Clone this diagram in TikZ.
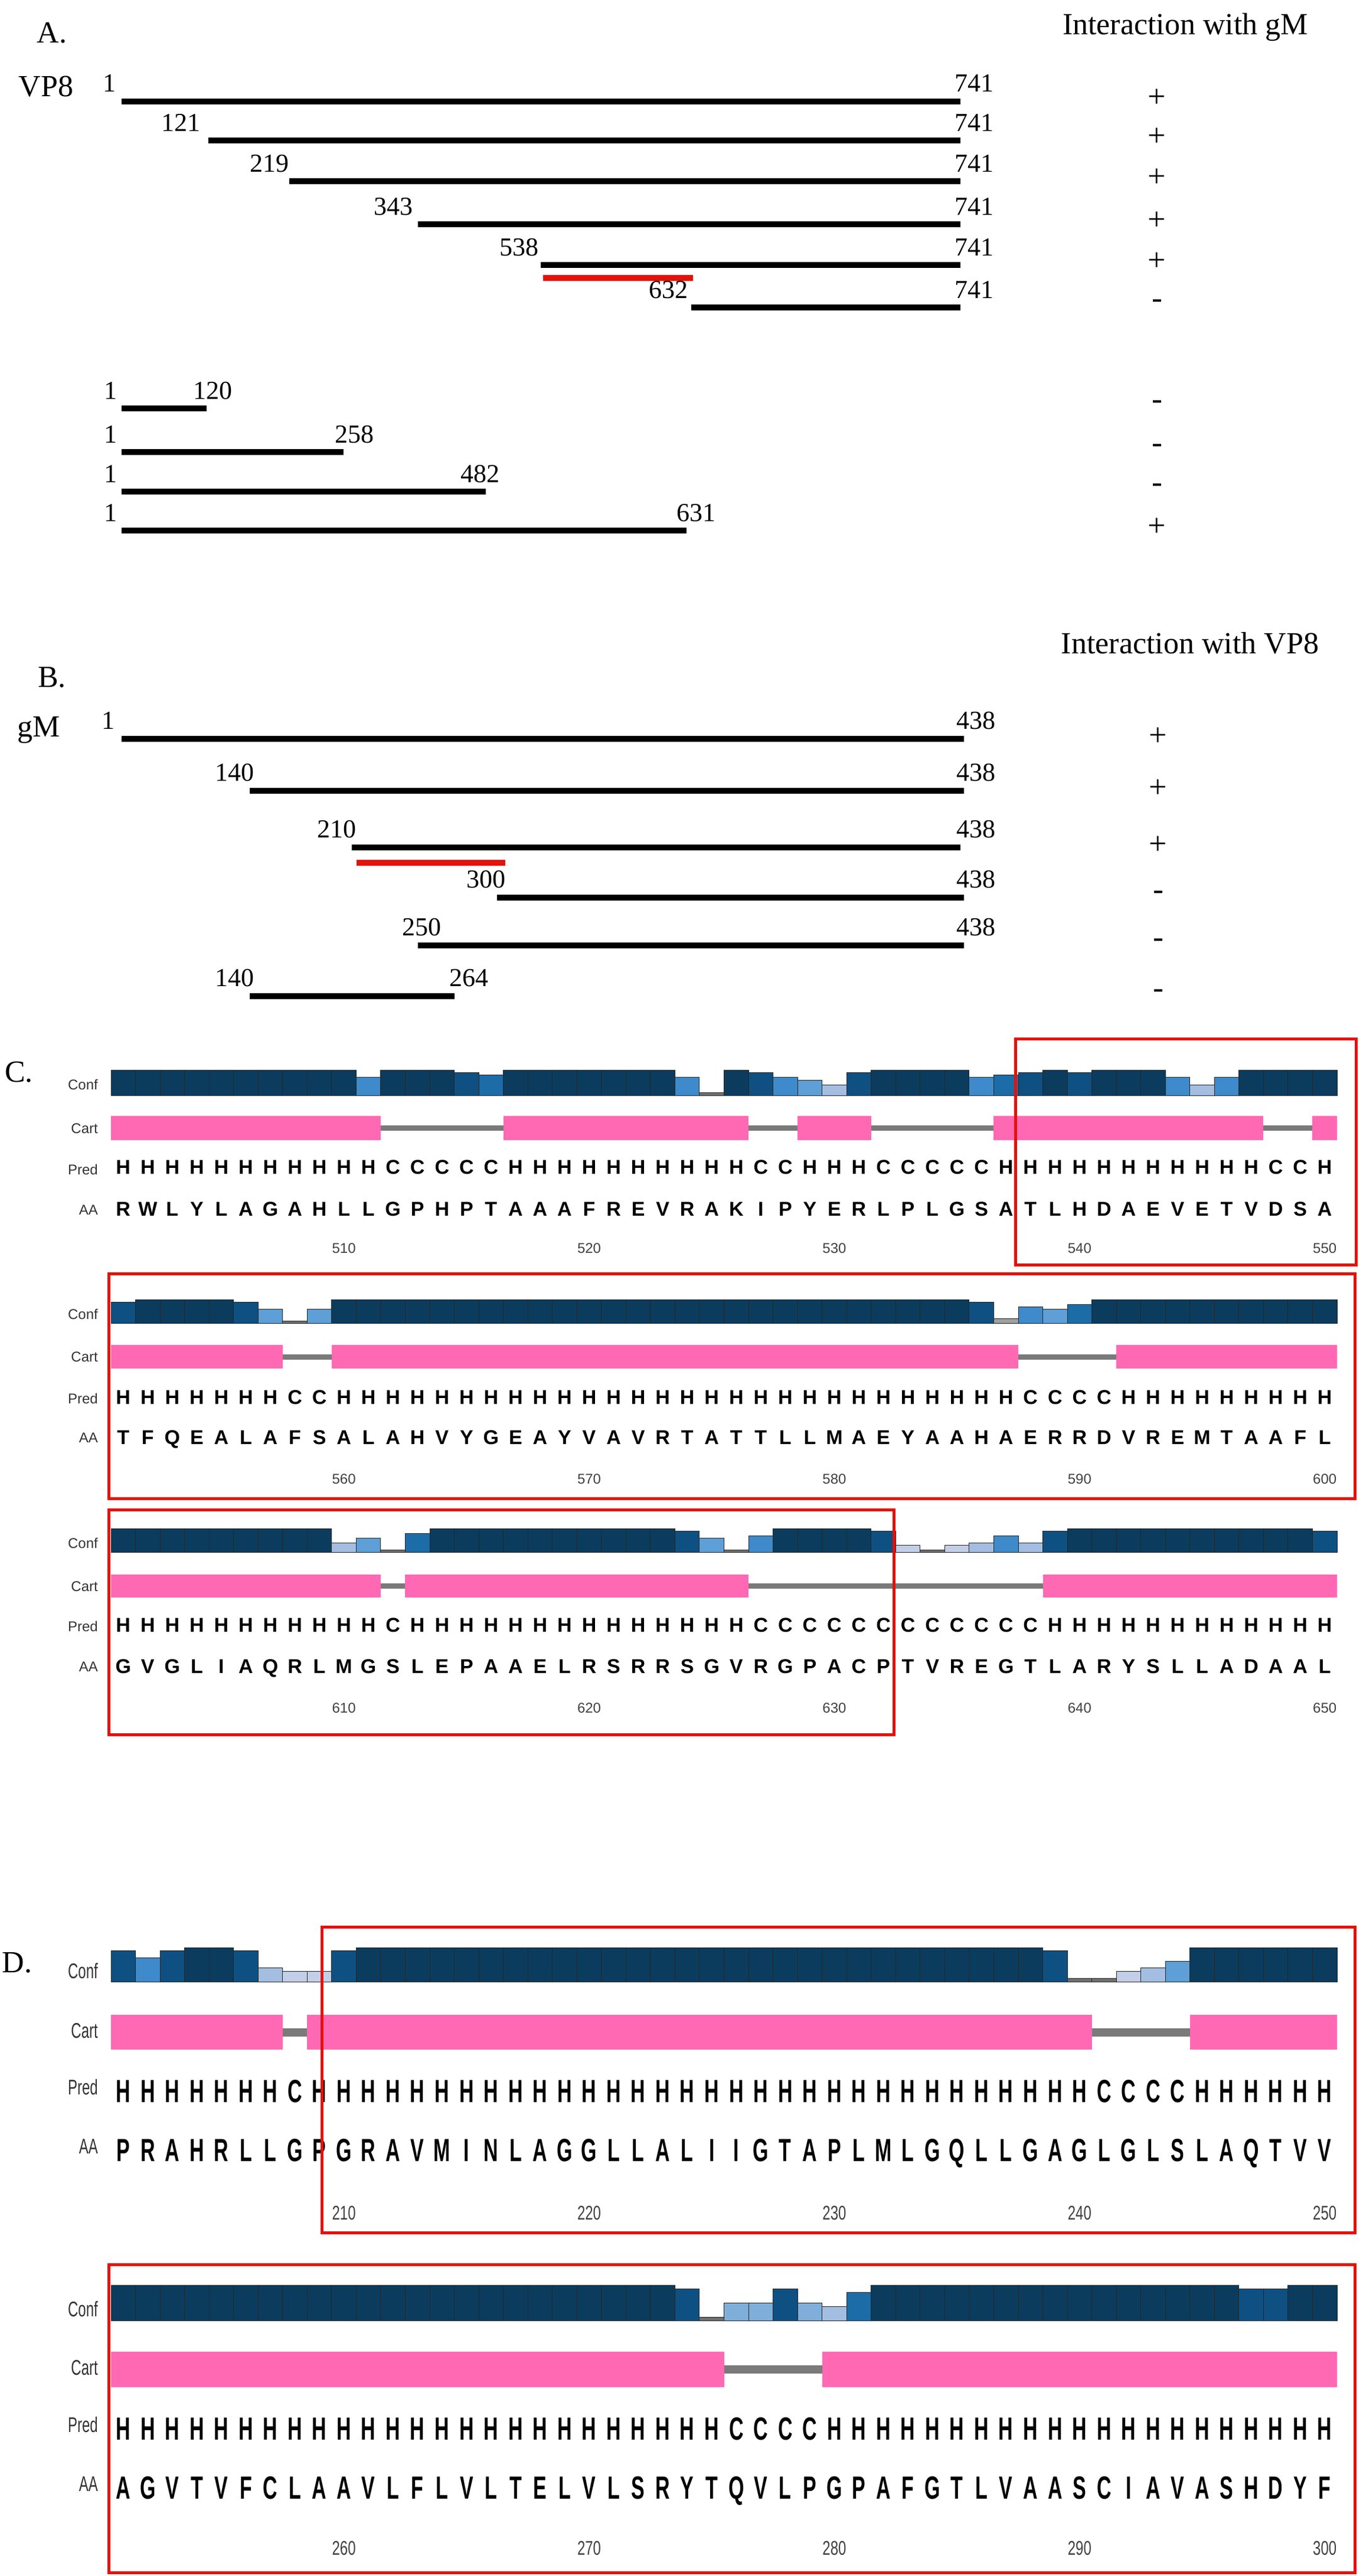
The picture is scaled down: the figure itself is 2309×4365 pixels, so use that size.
\documentclass[tikz,border=0pt]{standalone}
\usepackage{fontspec}
\setmainfont{Liberation Serif}
\newfontfamily\seqfont{Liberation Sans}
\usepackage{xstring}

\definecolor{conf9}{HTML}{0B3C5D}
\definecolor{conf8}{HTML}{0F5082}
\definecolor{conf7}{HTML}{1C6CA8}
\definecolor{conf6}{HTML}{3E8ACB}
\definecolor{conf5}{HTML}{5D9FD6}
\definecolor{conf4}{HTML}{7FAEDB}
\definecolor{conf3}{HTML}{A3BEE0}
\definecolor{conf2}{HTML}{C3CEE8}
\definecolor{conf1}{HTML}{A0A0A0}
\definecolor{conf0}{HTML}{707070}
\definecolor{helixpink}{HTML}{FF69B4}
\definecolor{coilgrey}{HTML}{7A7A7A}
\definecolor{boxred}{HTML}{E3120B}

% residue i spans 188+(i-1)*41.54 .. 188+i*41.54
\newcommand\psiconf[3]{% top, bottom, levels
  \foreach \i in {1,...,50}{
    \StrChar{#3}{\i}[\lvl]
    \edef\cc{conf\lvl}
    \pgfmathsetmacro\xa{188+(\i-1)*41.54}
    \pgfmathsetmacro\ya{#2-(#2-#1)*(\lvl+1)/10}
    \draw[conf bar, fill=\cc] (\xa,\ya) rectangle (\xa+41.54,#2);
  }}
\newcommand\psicart[4]{% top, bottom, coil width, helix segments
  \draw[coilgrey, line width=#3] (188,{(#1+#2)/2}) -- (2265,{(#1+#2)/2});
  \foreach \a/\b in {#4}
    \fill[helixpink] ({188+(\a-1)*41.54},#1) rectangle ({188+\b*41.54},#2);}
\newcommand\psiseq[4]{% baseline, string, stretch, name
  \foreach \i in {1,...,50}{
    \StrChar{#2}{\i}[\ch]
    \node[seq letter] (#4-\i) at ({188+(\i-0.5)*41.54},#1) {\scalebox{1}[#3]{\ch}};
  }}
\newcommand\psinum[4]{% baseline, first number, stretch, name
  \foreach \k in {1,...,5}{
    \pgfmathtruncatemacro\n{#2+10*\k}
    \node[seq num] (#4-\k) at ({188+(10*\k-0.5)*41.54},#1) {\scalebox{1}[#3]{\n}};
  }}
\newcommand\psilabels[6]{% conf, cart, pred, aa baselines, stretch, name
  \node[row lbl] (#6-conf) at (166,#1) {\scalebox{1}[#5]{Conf}};
  \node[row lbl] (#6-cart) at (166,#2) {\scalebox{1}[#5]{Cart}};
  \node[row lbl] (#6-pred) at (166,#3) {\scalebox{1}[#5]{Pred}};
  \node[row lbl] (#6-aa)   at (166,#4) {\scalebox{1}[#5]{AA}};}

\begin{document}
\begin{tikzpicture}[x=1pt,y=-1pt,
  bar/.style={line width=10pt},
  hit bar/.style={bar, boxred},
  num lbl/.style={inner sep=0pt, font=\fontsize{44}{44}\selectfont},
  big lbl/.style={inner sep=0pt, font=\fontsize{52}{52}\selectfont},
  sign/.style={inner sep=0pt, font=\fontsize{54}{54}\selectfont},
  conf bar/.style={draw=black!85, line width=1pt},
  seq letter/.style={anchor=base, inner sep=0pt, font=\seqfont\bfseries\fontsize{34}{34}\selectfont},
  seq num/.style={anchor=base, inner sep=0pt, text=black!75, font=\seqfont\fontsize{24}{24}\selectfont},
  row lbl/.style={anchor=base east, inner sep=0pt, text=black!80, font=\seqfont\fontsize{24}{24}\selectfont},
  red box/.style={draw=boxred, line width=5pt}]
\useasboundingbox (0,0) rectangle (2309,4365);

% ---- A ----
\node[big lbl] (A) at (88,56) {A.};
\node[big lbl] (vp8) at (78,147) {VP8};
\node[big lbl] (headA) at (2008,46) {Interaction with gM};
\foreach \s/\e/\y/\ls/\lx/\le/\ex/\r [count=\n] in {
  206/1627/172/1/197/741/1617/+, 353/1627/238/121/340/741/1617/+,
  490/1627/307/219/490/741/1617/+, 708/1627/380/343/700/741/1617/+,
  916/1627/449/538/913/741/1617/+, 1171/1627/521/632/1166/741/1617/-,
  206/350/692/1/199/120/327/-, 206/582/766/1/199/258/567/-,
  206/823/833/1/199/482/780/-, 206/1163/899/1/199/631/1146/+}{
  \draw[bar] (\s,\y) -- (\e,\y);
  \node[num lbl, anchor=base east] (a\n-s) at (\lx,\y-16) {\ls};
  \node[num lbl, anchor=base west] (a\n-e) at (\ex,\y-16) {\le};
  \node[sign] (a\n-r) at (1960,\y-6) {\r};
}
\draw[hit bar] (920,471) -- (1174,471);

% ---- B ----
\node[big lbl] (B) at (88,1148) {B.};
\node[big lbl] (gm) at (66,1237) {gM};
\node[big lbl] (headB) at (2016,1090) {Interaction with VP8};
\foreach \s/\e/\y/\ls/\lx/\le/\ex/\r [count=\n] in {
  206/1633/1252/1/195/438/1620/+, 423/1633/1340/140/431/438/1620/+,
  596/1627/1436/210/604/438/1620/+, 842/1633/1521/300/857/438/1620/-,
  708/1633/1602/250/748/438/1620/-, 423/770/1688/140/431/264/761/-}{
  \draw[bar] (\s,\y) -- (\e,\y);
  \node[num lbl, anchor=base east] (b\n-s) at (\lx,\y-17) {\ls};
  \node[num lbl, anchor=base west] (b\n-e) at (\ex,\y-17) {\le};
  \node[sign] (b\n-r) at (1962,\y-4) {\r};
}
\draw[hit bar] (604,1462) -- (856,1462);

% ---- C ----
\node[big lbl] (C) at (32,1817) {C.};
\psiconf{1813}{1856}{99999999996999879999999609865389999678989996369999}
\psicart{1891}{1932}{9pt}{1/11,17/26,29/31,37/47,50/50}
\psiseq{1989}{HHHHHHHHHHHCCCCCHHHHHHHHHHCCHHHCCCCCHHHHHHHHHHHCCH}{1}{c1p}
\psiseq{2060}{RWLYLAGAHLLGPHPTAAAFREVRAKIPYERLPLGSATLHDAEVETVDSA}{1}{c1a}
\psinum{2123}{500}{1}{c1n}
\psilabels{1846}{1920}{1990}{2058}{1}{c1}
\draw[red box] (1720,1760) rectangle (2297,2143);

\psiconf{2202}{2242}{89999850599999999999999999999999999816579999999999}
\psicart{2279}{2319}{9pt}{1/7,10/37,42/50}
\psiseq{2379}{HHHHHHHCCHHHHHHHHHHHHHHHHHHHHHHHHHHHHCCCCHHHHHHHHH}{1}{c2p}
\psiseq{2447}{TFQEALAFSALAHVYGEAYVAVRTATTLLMAEYAAHAERRDVREMTAAFL}{1}{c2a}
\psinum{2514}{550}{1}{c2n}
\psilabels{2235}{2307}{2378}{2444}{1}{c2}
\draw[red box] (184,2158) rectangle (2295,2539);

\psiconf{2590}{2630}{99999999935079999999999850699998202363899999999998}
\psicart{2668}{2707}{9pt}{1/11,13/26,39/50}
\psiseq{2765}{HHHHHHHHHHHCHHHHHHHHHHHHHHCCCCCCCCCCCCHHHHHHHHHHHH}{1}{c3p}
\psiseq{2835}{GVGLIAQRLMGSLEPAAELRSRRSGVRGPACPTVREGTLARYSLLADAAL}{1}{c3a}
\psinum{2902}{600}{1}{c3n}
\psilabels{2623}{2696}{2764}{2832}{1}{c3}
\draw[red box] (184,2558) rectangle (1514,2939);

% ---- D ----
\node[big lbl] (D) at (29,3326) {D.};
\psiconf{3300}{3358}{86899832289999999999999999999999999999800235999999}
\psicart{3414}{3473}{14pt}{1/7,9/40,45/50}
\psiseq{3562}{HHHHHHHCHHHHHHHHHHHHHHHHHHHHHHHHHHHHHHHHCCCCHHHHHH}{1.6}{d1p}
\psiseq{3662}{PRAHRLLGPGRAVMINLAGGLLALIIGTAPLMLGQLLGAGLGLSLAQTVV}{1.6}{d1a}
\psinum{3761}{200}{1.4}{d1n}
\psilabels{3352}{3453}{3549}{3649}{1.5}{d1}
\draw[red box] (545,3265) rectangle (2295,3783);

\psiconf{3872}{3932}{99999999999999999999999804484379999999999999998899}
\psicart{3985}{4045}{14pt}{1/25,30/50}
\psiseq{4134}{HHHHHHHHHHHHHHHHHHHHHHHHHCCCCHHHHHHHHHHHHHHHHHHHHH}{1.6}{d2p}
\psiseq{4234}{AGVTVFCLAAVLFLVLTELVLSRYTQVLPGPAFGTLVAASCIAVASHDYF}{1.6}{d2a}
\psinum{4329}{250}{1.4}{d2n}
\psilabels{3925}{4024}{4121}{4221}{1.5}{d2}
\draw[red box] (184,3837) rectangle (2295,4359);
\end{tikzpicture}
\end{document}
